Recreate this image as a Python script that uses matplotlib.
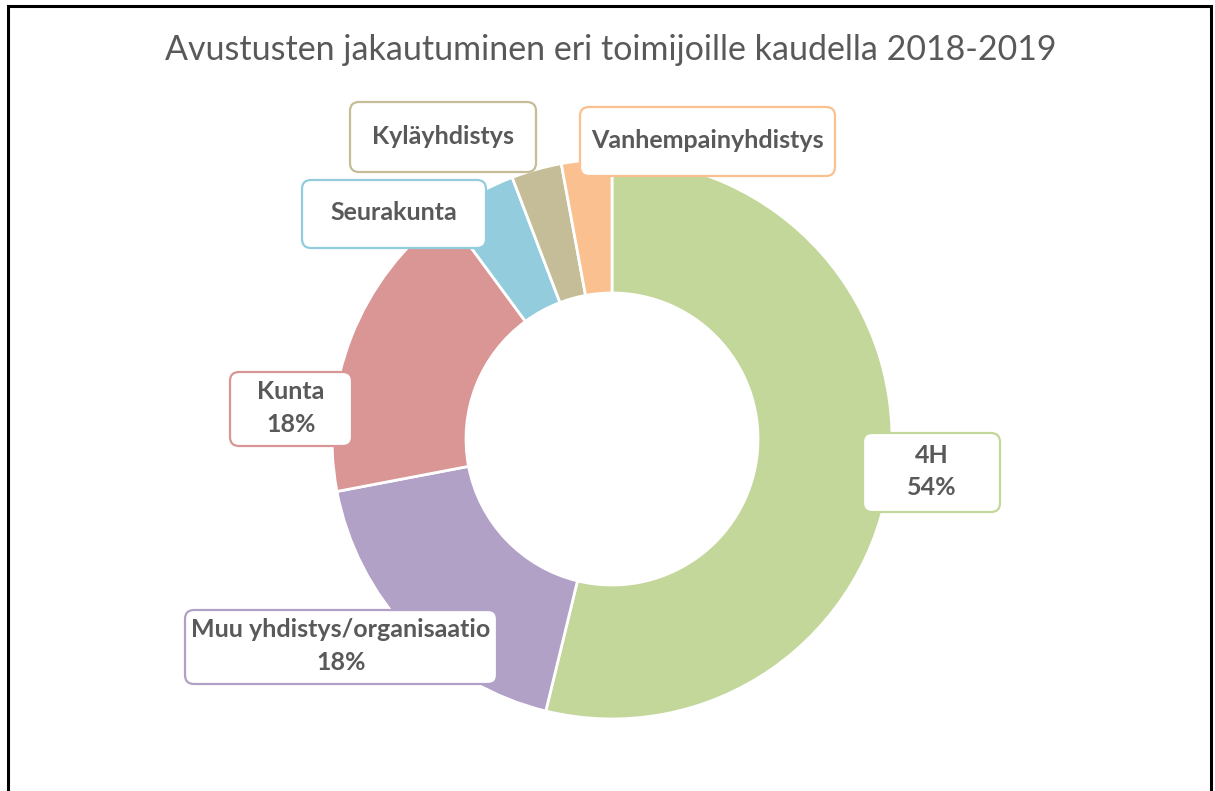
import numpy as np
import matplotlib.pyplot as plt
from matplotlib.patches import FancyBboxPatch

# data (share of grants, %), clockwise from 12 o'clock
labels = ['4H', 'Muu yhdistys/organisaatio', 'Kunta', 'Seurakunta', 'Kyläyhdistys', 'Vanhempainyhdistys']
values = [53.8, 18.2, 17.9, 4.3, 2.9, 2.9]
show_pct = [True, True, True, False, False, False]
colors = ['#c4d79b', '#b2a1c7', '#d99694', '#93cddd', '#c4bd97', '#fac090']
title = 'Avustusten jakautuminen eri toimijoille kaudella 2018-2019'

W, H = 1215, 791
# label boxes in pixel coords: (x0, y0_top, x1, y1_bottom)
boxes = [(863, 433, 1000, 512), (185, 610, 497, 684), (230, 372, 352, 446),
         (302, 180, 486, 248), (350, 102, 536, 172), (580, 107, 835, 176)]

text_col = '#595959'
plt.rcParams['font.family'] = ['Lato', 'DejaVu Sans']

fig = plt.figure(figsize=(W / 100, H / 100), dpi=100)
ax = fig.add_axes([0, 0, 1, 1])

cx, cy = 612, H - 439
r_out, r_in = 280, 146
ax.pie(values, colors=colors, startangle=90, counterclock=False,
       radius=r_out, center=(cx, cy), frame=True,
       wedgeprops=dict(width=r_out - r_in, edgecolor='white', linewidth=2))

total = sum(values)
for lab, v, sp, c, b in zip(labels, values, show_pct, colors, boxes):
    x0, y0, x1, y1 = b
    patch = FancyBboxPatch((x0, H - y1), x1 - x0, y1 - y0,
                           boxstyle='round,pad=0,rounding_size=9',
                           facecolor='white', edgecolor=c, linewidth=1.6, zorder=5)
    ax.add_patch(patch)
    txt = lab + ('\n%d%%' % round(v / total * 100) if sp else '')
    ax.text((x0 + x1) / 2, H - (y0 + y1) / 2 + 1, txt, ha='center', va='center',
            fontsize=18, fontweight='bold', color=text_col, zorder=6,
            linespacing=1.5)

ax.text(W / 2 + 3, H - 50, title, ha='center', va='center', fontsize=24.5,
        color=text_col)

# outer frame (left, top, right)
ax.plot([8, 8, 1211, 1211], [0, H - 6, H - 6, 0], color='black', linewidth=2.2,
        solid_joinstyle='miter')

ax.set_xlim(0, W)
ax.set_ylim(0, H)
ax.set_aspect('auto')
ax.axis('off')

fig.savefig('out.png', dpi=100)
